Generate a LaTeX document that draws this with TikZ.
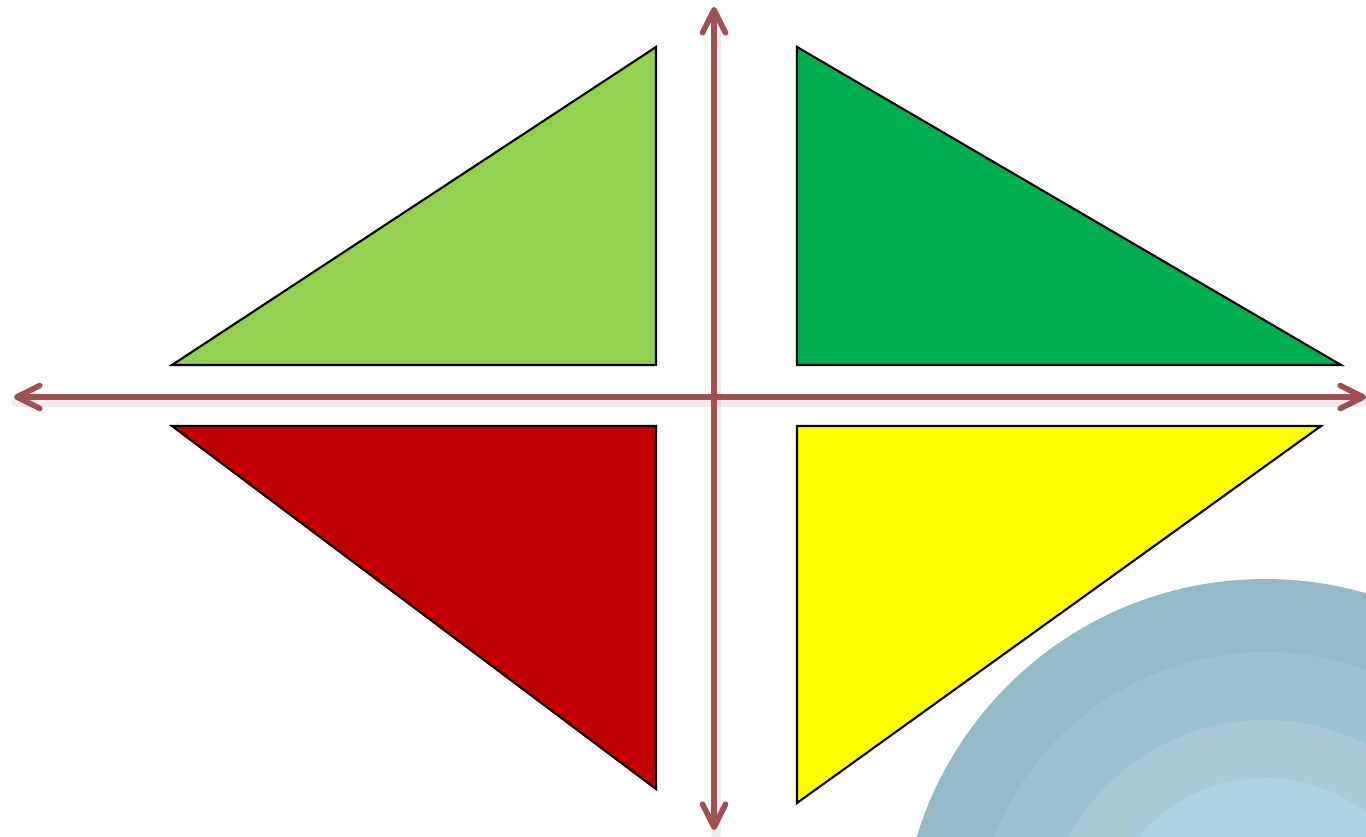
\documentclass[tikz,border=0pt]{standalone}
\usepackage{tikz}
\usetikzlibrary{arrows.meta}
\definecolor{AxisRed}{RGB}{158,80,83}
\definecolor{LightGreen}{RGB}{146,208,80}
\definecolor{DarkGreen}{RGB}{0,176,80}
\definecolor{DeepRed}{RGB}{192,0,0}
\definecolor{PureYellow}{RGB}{255,255,0}
\definecolor{RingA}{RGB}{147,186,198}
\definecolor{RingB}{RGB}{157,194,207}
\definecolor{RingC}{RGB}{169,202,212}
\definecolor{RingD}{RGB}{174,211,226}

\begin{document}
\begin{tikzpicture}[
    axis/.style={AxisRed, line width=1.6pt, line cap=round,
      {Straight Barb[length=2.3mm,width=2.3mm,line cap=round,line join=round]}-{Straight Barb[length=2.3mm,width=2.3mm,line cap=round,line join=round]}},
    shade/.style={black!60, opacity=0.12, line width=2.6pt, line cap=round},
    tri/.style={draw=black, line width=0.6pt, line join=miter}]
        \useasboundingbox (0,0) rectangle (13.66,8.36);
        \clip (0,0) rectangle (13.66,8.36);
        % rings in the corner
        \fill[RingA] (12.65,-1.07) circle (3.64);
        \fill[RingB] (12.65,-1.07) circle (2.91);
        \fill[RingC] (12.65,-1.07) circle (2.23);
        \fill[RingD] (12.65,-1.07) circle (1.65);
        % four quadrants
        \filldraw[tri, fill=LightGreen] (1.72,4.71) -- (6.56,4.71) -- (6.56,7.89) -- cycle;
        \filldraw[tri, fill=DarkGreen] (7.97,7.89) -- (7.97,4.71) -- (13.41,4.71) -- cycle;
        \filldraw[tri, fill=DeepRed] (1.72,4.10) -- (6.56,4.10) -- (6.56,0.47) -- cycle;
        \filldraw[tri, fill=PureYellow] (7.97,4.10) -- (13.21,4.10) -- (7.97,0.33) -- cycle;
        % axes
        \coordinate (west) at (0.14,4.39);
        \coordinate (east) at (13.66,4.39);
        \coordinate (north) at (7.14,8.29);
        \coordinate (south) at (7.14,0.06);
        \draw[shade] ([shift={(0.02,-0.05)}]west) -- ([shift={(0.02,-0.05)}]east);
        \draw[shade] ([shift={(0.02,-0.05)}]north) -- ([shift={(0.02,-0.05)}]south);
        \draw[axis] (west) -- (east);
        \draw[axis] (north) -- (south);
      \end{tikzpicture}
\end{document}
